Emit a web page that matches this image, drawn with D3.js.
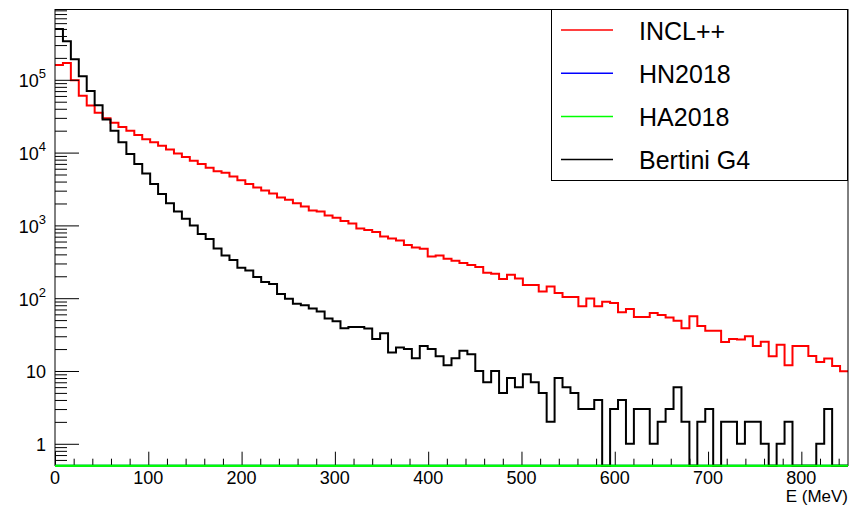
<!DOCTYPE html>
<html><head><meta charset="utf-8">
<script src="https://cdn.jsdelivr.net/npm/d3@7"></script>
<style>
body{margin:0;background:#fff}
svg{display:block;font-family:"Liberation Sans",Arial,Helvetica,sans-serif}
</style>
</head><body>
<svg id="c" width="859" height="506"></svg>
<script>
// ---------------- data ----------------
const energyRange = [0, 850];          // MeV, 100 bins of 8.5 MeV
const yRange = [0.5, 9.3e5];
const xTicks = [0, 100, 200, 300, 400, 500, 600, 700, 800];
const yTicks = [1, 10, 100, 1000, 10000, 100000];
const yTickBase = ["1", "10", "10", "10", "10", "10"];
const yTickExp  = ["", "", "2", "3", "4", "5"];
const xTitle = "E (MeV)";
const seriesNames  = ["INCL++", "HN2018", "HA2018", "Bertini G4"];
const seriesColors = ["#ff0000", "#0000ff", "#00ff00", "#000000"];

const incl = [1.60e5,1.70e5,9.85e4,6.05e4,4.42e4,3.54e4,2.97e4,2.58e4,2.25e4,2.00e4,
  1.75e4,1.53e4,1.39e4,1.24e4,1.10e4,9700,8730,7700,7000,6170,
  5560,5270,4690,4180,3690,3310,3010,2740,2416,2245,
  2022,1816,1601,1551,1367,1271,1145,1061,906,862,
  809,705,661,621,537,498,478,375,386,348,
  327,304,285,268,224,217,183,210,187,152,
  152,124,145,118,104,104,77.2,99.3,77.2,89.5,
  85.9,64,71,55.2,55.2,62.7,58.8,54.5,49.1,38.5,
  56.3,41.6,35.8,35.8,25.1,27.6,27.0,29.9,22.1,25.3,
  15.9,23.0,12.0,22.1,22.1,16.1,13.3,14.9,11.7,9.9];

const hn2018 = [0,0,0,0,0,0,0,0,0,0, 0,0,0,0,0,0,0,0,0,0, 0,0,0,0,0,0,0,0,0,0, 0,0,0,0,0,0,0,0,0,0, 0,0,0,0,0,0,0,0,0,0,
  0,0,0,0,0,0,0,0,0,0, 0,0,0,0,0,0,0,0,0,0, 0,0,0,0,0,0,0,0,0,0, 0,0,0,0,0,0,0,0,0,0, 0,0,0,0,0,0,0,0,0,0];
const ha2018 = [0,0,0,0,0,0,0,0,0,0, 0,0,0,0,0,0,0,0,0,0, 0,0,0,0,0,0,0,0,0,0, 0,0,0,0,0,0,0,0,0,0, 0,0,0,0,0,0,0,0,0,0,
  0,0,0,0,0,0,0,0,0,0, 0,0,0,0,0,0,0,0,0,0, 0,0,0,0,0,0,0,0,0,0, 0,0,0,0,0,0,0,0,0,0, 0,0,0,0,0,0,0,0,0,0];

const bertini = [4.98e5,3.38e5,1.91e5,1.12e5,7.0e4,4.47e4,2.85e4,1.99e4,1.39e4,9600,
  7000,5150,3690,2690,2020,1550,1230,998,760,649,
  482,386,334,262,240,195,167,157,114,98.5,
  84,80,72.4,65.9,52.8,48.1,38.5,40.3,40.3,38.2,
  27.6,32.9,18,21,20,15,22,20,16,12,
  15,19,17,10,7,10,5,8,6,9,
  7,5,2,8,6,5,3,3,4,0,
  3,4,1,3,3,1,2,3,6,2,
  0,2,3,0,2,2,1,2,2,1,
  0,1,2,0,0,0,1,3,0,0];

const allSeries = [incl, hn2018, ha2018, bertini];

// ---------------- layout ----------------
const L = 55, R = 848, T = 9.3, B = 465.7;
const svg = d3.select("#c");
svg.append("rect").attr("width", 859).attr("height", 506).attr("fill", "#fff");

const x = d3.scaleLinear().domain(energyRange).range([L, R]);
const y = d3.scaleLog().domain(yRange).range([B, T]);

// histograms
const nBins = incl.length;
const bw = (energyRange[1] - energyRange[0]) / nBins;
function stepPoints(vals) {
  const p = vals.map((v, i) => [energyRange[0] + i * bw, v]);
  p.push([energyRange[1], vals[vals.length - 1]]);
  return p;
}
const line = d3.line()
  .x(d => x(d[0]))
  .y(d => y(Math.max(d[1], yRange[0])))
  .curve(d3.curveStepAfter);

allSeries.forEach((s, i) => {
  svg.append("path")
    .attr("d", line(stepPoints(s)))
    .attr("fill", "none")
    .attr("stroke", seriesColors[i])
    .attr("stroke-width", 2)
    .attr("stroke-linejoin", "miter");
});

// y axis ticks
const yMinor = [];
for (let e = -1; e <= 5; e++) for (let k = 2; k <= 9; k++) {
  const v = k * Math.pow(10, e);
  if (v > yRange[0] && v < yRange[1]) yMinor.push(v);
}
const gy1 = svg.append("g").attr("transform", `translate(${L},0)`)
  .call(d3.axisRight(y).tickValues(yTicks).tickSize(24).tickFormat(""));
const gy2 = svg.append("g").attr("transform", `translate(${L},0)`)
  .call(d3.axisRight(y).tickValues(yMinor).tickSize(12).tickFormat(""));
[gy1, gy2].forEach(g => { g.select(".domain").remove(); g.selectAll("line").attr("stroke", "#000"); });

// x axis ticks
const xMinor = [];
for (let v = 20; v < energyRange[1]; v += 20) if (v % 100 !== 0) xMinor.push(v);
const gx1 = svg.append("g").attr("transform", `translate(0,${B})`)
  .call(d3.axisTop(x).tickValues(xTicks).tickSize(14).tickFormat(""));
const gx2 = svg.append("g").attr("transform", `translate(0,${B})`)
  .call(d3.axisTop(x).tickValues(xMinor).tickSize(7).tickFormat(""));
[gx1, gx2].forEach(g => { g.select(".domain").remove(); g.selectAll("line").attr("stroke", "#000"); });

// frame
svg.append("line").attr("x1", L).attr("x2", R).attr("y1", 9.5).attr("y2", 9.5).attr("stroke", "#000");
svg.append("line").attr("x1", L).attr("x2", L).attr("y1", 9).attr("y2", 466).attr("stroke", "#000");
svg.append("line").attr("x1", R).attr("x2", R).attr("y1", 9).attr("y2", 466).attr("stroke", "#000");

// redraw green baseline on top (zero histograms)
svg.append("path")
  .attr("d", line(stepPoints(ha2018)))
  .attr("fill", "none").attr("stroke", seriesColors[2]).attr("stroke-width", 2);

// tick labels
const fs = 18;
xTicks.forEach(v => {
  svg.append("text").attr("x", x(v)).attr("y", 484)
    .attr("text-anchor", "middle").attr("font-size", fs).text(v);
});
svg.append("text").attr("x", R).attr("y", 502).attr("text-anchor", "end")
  .attr("font-size", 17).text(xTitle);

yTicks.forEach((v, i) => {
  const t = svg.append("text").attr("x", 46).attr("y", y(v) + 7.5)
    .attr("text-anchor", "end").attr("font-size", fs);
  t.append("tspan").text(yTickBase[i]);
  if (yTickExp[i]) t.append("tspan").attr("dy", -9).attr("font-size", 13).text(yTickExp[i]);
});

// legend
const lg = svg.append("g");
lg.append("rect").attr("x", 551.5).attr("y", 9.5).attr("width", 296).attr("height", 171)
  .attr("fill", "#fff").attr("stroke", "#000");
seriesNames.forEach((n, i) => {
  const cy = 30 + i * 43.2;
  lg.append("line").attr("x1", 561).attr("x2", 613).attr("y1", cy).attr("y2", cy)
    .attr("stroke", seriesColors[i]).attr("stroke-width", 1.5);
  lg.append("text").attr("x", 639).attr("y", cy + 9.6).attr("font-size", 25).text(n);
});
</script>
</body></html>
